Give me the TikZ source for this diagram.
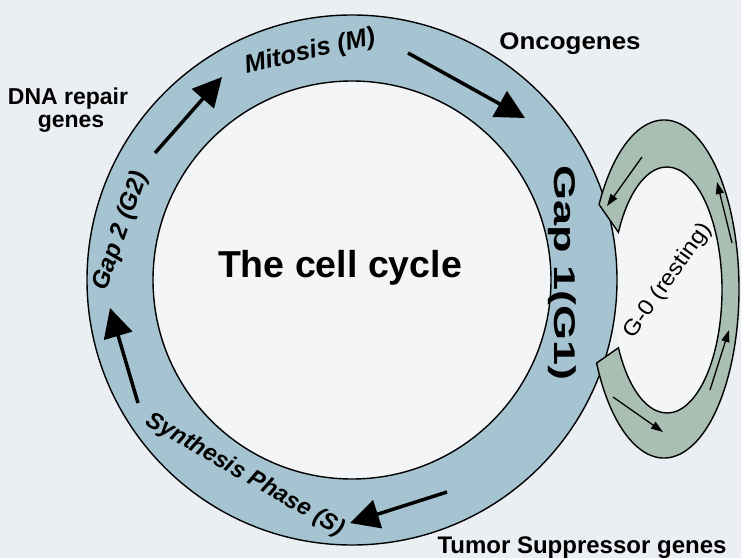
\documentclass[tikz,border=0pt]{standalone}
\usepackage{fontspec}
\setmainfont{Liberation Sans}
\usetikzlibrary{arrows.meta,calc}
\definecolor{bgc}{HTML}{EBEFF3}
\definecolor{ringblue}{HTML}{A5C3D0}
\definecolor{ggreen}{HTML}{A9BFB3}
\definecolor{innerc}{HTML}{F3F5F7}
\begin{document}
\begin{tikzpicture}[x=1pt,y=1pt,
  bigarrow/.style={line width=3.5pt, -{Triangle[length=29pt,width=29pt]}},
  smallarrow/.style={line width=1.3pt, -{Triangle[length=12pt,width=8pt]}},
  edge/.style={draw=black, line width=1.4pt},
  lbl/.style={inner sep=0pt},
  phase/.style={inner sep=0pt, font=\fontsize{24.5}{27}\selectfont\bfseries\itshape}]
\useasboundingbox[fill=bgc] (0,0) rectangle (741,558);
% G0 interior and main ring
\fill[innerc] (667,268) ellipse [x radius=55, y radius=123];
\fill[innerc] (352,278) circle (199);
\fill[ringblue, even odd rule] (352,278) circle (265) (352,278) circle (199);
\draw[edge] (352,278) circle (265);
\draw[edge] (352,278) circle (199);
% G0 band
\filldraw[fill=ggreen, edge] (664,269) ++(150:75 and 169)
  arc[start angle=150, end angle=-154, x radius=75, y radius=169]
  -- ([shift={(667,268)}]-152:55 and 123)
  arc[start angle=-152, end angle=152, x radius=55, y radius=123] -- cycle;
% big arrows
\coordinate (a1s) at (155,405); \coordinate (a1e) at (222,481);
\coordinate (a2s) at (408,505); \coordinate (a2e) at (525,440);
\coordinate (a3s) at (447,66);  \coordinate (a3e) at (350,35);
\coordinate (a4s) at (138,155); \coordinate (a4e) at (110,250);
\draw[bigarrow] (a1s) -- (a1e);
\draw[bigarrow] (a2s) -- (a2e);
\draw[bigarrow] (a3s) -- (a3e);
\draw[bigarrow] (a4s) -- (a4e);
% small arrows
\coordinate (b1s) at (642,401); \coordinate (b1e) at (607,352);
\coordinate (b2s) at (732,315); \coordinate (b2e) at (717,376);
\coordinate (b3s) at (710,168); \coordinate (b3e) at (729,228);
\coordinate (b4s) at (613,161); \coordinate (b4e) at (663,126);
\draw[smallarrow] (b1s) -- (b1e);
\draw[smallarrow] (b2s) -- (b2e);
\draw[smallarrow] (b3s) -- (b3e);
\draw[smallarrow] (b4s) -- (b4e);
% texts
\node[lbl, anchor=base, font=\fontsize{37.5}{40}\selectfont\bfseries] (title) at (340,281) {The cell cycle};
\node[lbl, anchor=base, font=\fontsize{23}{25}\selectfont\bfseries] (dna1) at (68,453) {DNA repair};
\node[lbl, anchor=base, font=\fontsize{23}{25}\selectfont\bfseries] (dna2) at (71,430) {genes};
\node[lbl, anchor=base, font=\fontsize{24}{26}\selectfont\bfseries] (onco) at (570,508) {\scalebox{1.08}[1]{Oncogenes}};
\node[lbl, anchor=base, font=\fontsize{24}{26}\selectfont\bfseries] (tumor) at (582,5) {Tumor Suppressor genes};
\node[phase, rotate=13, font=\fontsize{25.5}{28}\selectfont\bfseries\itshape] (mit) at (310,506) {Mitosis (M)};
\node[phase, rotate=70.7] (g2) at (121,327) {Gap 2 (G2)};
\node[phase, rotate=-30, font=\fontsize{23.5}{26}\selectfont\bfseries\itshape] (syn) at (245,83) {Synthesis Phase (S)};
\node[lbl, anchor=base, rotate=-90, font=\fontsize{30}{32}\selectfont\bfseries] (g1) at (554,285) {\scalebox{1.5}[1]{Gap 1(G1)}};
\node[lbl, rotate=54.6, font=\fontsize{22}{24}\selectfont] (g0) at (668,277) {\scalebox{1.1}[1]{G-0 (resting)}};
\end{tikzpicture}
\end{document}
